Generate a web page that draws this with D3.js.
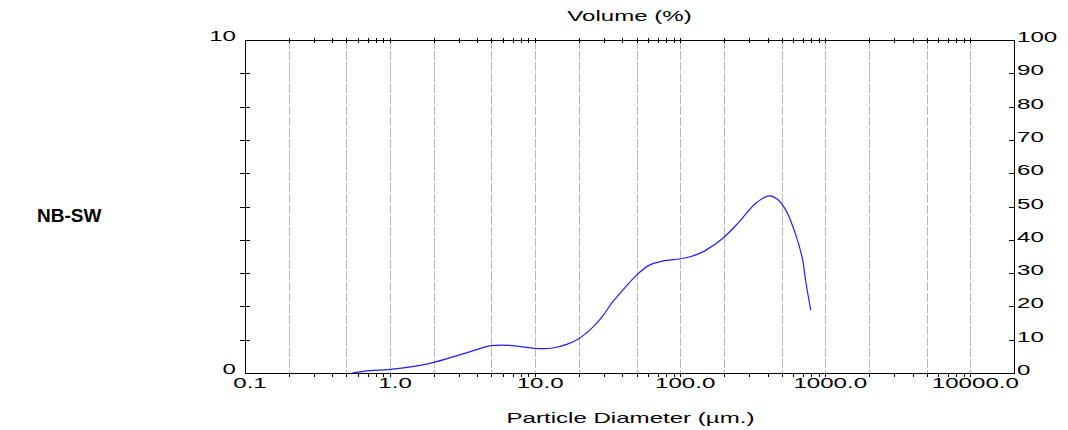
<!DOCTYPE html>
<html>
<head>
<meta charset="utf-8">
<script src="https://cdn.jsdelivr.net/npm/d3@7"></script>
<style>
  html, body { margin: 0; padding: 0; background: #fff; }
  svg { display: block; }
  text { font-family: "Liberation Sans", Arial, sans-serif; fill: #000; }
</style>
</head>
<body>
<svg id="chart" width="1068" height="430"></svg>
<script>
// Particle size distribution: diameter (µm) vs volume (%)
const diameters = [0.545, 0.725, 1.0, 1.88, 3.27, 5.0, 6.67, 10, 13.2, 16.5, 20, 24.9, 29.2, 34.3, 40.2, 50, 61.3, 75.7, 100, 116.8, 131.8, 150.6, 196, 255, 332, 410, 468, 535, 627, 695, 734, 794];
const volumes   = [0,     0.07,  0.11, 0.29, 0.59, 0.82, 0.83, 0.74, 0.75, 0.86, 1.03, 1.37, 1.71, 2.14, 2.49, 2.94, 3.24, 3.36, 3.43, 3.49, 3.57, 3.69, 4.04, 4.54, 5.10, 5.32, 5.22, 4.89, 4.14, 3.44, 2.74, 1.89];

const xDomain = [0.1, 20000];
const decadeValues = [0.1, 1, 10, 100, 1000, 10000];
const decadeLabels = ["0.1", "1.0", "10.0", "100.0", "1000.0", "10000.0"];
const gridValues = [0.2, 0.5, 1, 2, 5, 10, 20, 50, 100, 200, 500, 1000, 2000, 5000, 10000];
const leftMinorTicks = [1, 2, 3, 4, 5, 6, 7, 8, 9];
const leftLabels = [0, 10];
const rightTicks = [10, 20, 30, 40, 50, 60, 70, 80, 90];
const rightLabels = [0, 10, 20, 30, 40, 50, 60, 70, 80, 90, 100];

const sampleName = "NB-SW";
const topTitle = "Volume (%)";
const bottomTitle = "Particle Diameter (µm.)";

const svg = d3.select("#chart");
const plot = { left: 245, right: 1014, top: 40, bottom: 373 };
const stretch = 1.72;   // wide lettering of the instrument software
const fs = 14;

const x = d3.scaleLog().domain(xDomain).range([plot.left, plot.right]);
const y = d3.scaleLinear().domain([0, 10]).range([plot.bottom, plot.top]);
const yR = d3.scaleLinear().domain([0, 100]).range([plot.bottom, plot.top]);

function wideText(g, px, py, str, anchor) {
  g.append("text")
    .attr("transform", `translate(${px},${py}) scale(${stretch},1)`)
    .attr("text-anchor", anchor)
    .attr("font-size", fs)
    .text(str);
}

// vertical grid lines
svg.append("g").selectAll("line").data(gridValues).join("line")
  .attr("x1", d => Math.round(x(d)) + 0.5).attr("x2", d => Math.round(x(d)) + 0.5)
  .attr("y1", plot.top).attr("y2", plot.bottom)
  .attr("stroke", "#b8b8b8").attr("stroke-width", 1).attr("stroke-dasharray", "9,2");

// frame
const frame = svg.append("g").attr("stroke", "#000").attr("stroke-width", 1);
frame.append("line").attr("x1", plot.left + 0.5).attr("x2", plot.left + 0.5).attr("y1", plot.top).attr("y2", plot.bottom + 0.5);
frame.append("line").attr("x1", plot.right + 0.5).attr("x2", plot.right + 0.5).attr("y1", plot.top).attr("y2", plot.bottom + 0.5);
frame.append("line").attr("x1", plot.left).attr("x2", plot.right + 1).attr("y1", plot.top + 0.5).attr("y2", plot.top + 0.5);
frame.append("line").attr("x1", plot.left).attr("x2", plot.right + 1).attr("y1", plot.bottom + 0.5).attr("y2", plot.bottom + 0.5);

// log ticks on the top and bottom edges
const xTicks = x.ticks().filter(v => v > xDomain[0] && v < xDomain[1]);
svg.append("g").selectAll("line").data(xTicks).join("line")
  .attr("x1", d => Math.round(x(d)) + 0.5).attr("x2", d => Math.round(x(d)) + 0.5)
  .attr("y1", plot.top - 2).attr("y2", plot.top + 3)
  .attr("stroke", "#000");
svg.append("g").selectAll("line").data(xTicks).join("line")
  .attr("x1", d => Math.round(x(d)) + 0.5).attr("x2", d => Math.round(x(d)) + 0.5)
  .attr("y1", plot.bottom).attr("y2", plot.bottom + 4)
  .attr("stroke", "#000");

// left ticks (cross the axis)
svg.append("g").selectAll("line").data(leftMinorTicks).join("line")
  .attr("x1", plot.left - 5).attr("x2", plot.left + 5)
  .attr("y1", d => Math.round(y(d)) + 0.5).attr("y2", d => Math.round(y(d)) + 0.5)
  .attr("stroke", "#000");

// right ticks (inward)
svg.append("g").selectAll("line").data(rightTicks).join("line")
  .attr("x1", plot.right - 5).attr("x2", plot.right)
  .attr("y1", d => Math.round(yR(d)) + 0.5).attr("y2", d => Math.round(yR(d)) + 0.5)
  .attr("stroke", "#000");

// labels
const labels = svg.append("g");
leftLabels.forEach(v => wideText(labels, plot.left - 9, y(v) + 0.5, String(v), "end"));
rightLabels.forEach(v => wideText(labels, plot.right + 3, yR(v) + 2, String(v), "start"));
decadeValues.forEach((v, i) => wideText(labels, x(v) + 5, plot.bottom + 15, decadeLabels[i], "middle"));
wideText(labels, (plot.left + plot.right) / 2, 21, topTitle, "middle");
wideText(labels, (plot.left + plot.right) / 2 + 1, 423, bottomTitle, "middle");

svg.append("text")
  .attr("x", 37).attr("y", 222)
  .attr("font-size", 19).attr("font-weight", "bold")
  .text(sampleName);

// distribution curve
const pts = diameters.map((d, i) => ({ d, v: volumes[i] }));
const line = d3.line().x(p => x(p.d)).y(p => y(p.v)).curve(d3.curveCatmullRom.alpha(0.5));
svg.append("path").datum(pts)
  .attr("d", line)
  .attr("fill", "none").attr("stroke", "#1f1fff").attr("stroke-width", 1.2);
</script>
</body>
</html>
